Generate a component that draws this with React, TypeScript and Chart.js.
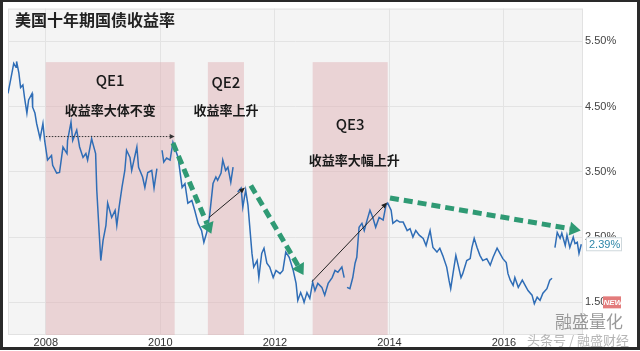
import { useEffect, useRef } from "react";
import { Chart, registerables } from "chart.js";

Chart.register(...registerables);

// ---- data ----
const years = [
  2007.34, 2007.41, 2007.44, 2007.48, 2007.49, 2007.53, 2007.56, 2007.6, 2007.63, 2007.67,
  2007.7, 2007.76, 2007.77, 2007.81, 2007.84, 2007.9, 2007.95, 2007.98, 2008.03, 2008.1,
  2008.12, 2008.19, 2008.24, 2008.3, 2008.37, 2008.38, 2008.44, 2008.47, 2008.54, 2008.59,
  2008.65, 2008.7, 2008.73, 2008.8, 2008.82, 2008.87, 2008.89, 2008.93, 2008.96, 2009.0,
  2009.05, 2009.08, 2009.15, 2009.21, 2009.24, 2009.28, 2009.33, 2009.38, 2009.41, 2009.47,
  2009.5, 2009.59, 2009.62, 2009.69, 2009.73, 2009.78, 2009.85, 2009.89, 2009.94, 2009.98,
  2010.03, 2010.06, 2010.11, 2010.17, 2010.22, 2010.31, 2010.38, 2010.43, 2010.48, 2010.55,
  2010.6, 2010.66, 2010.72, 2010.76, 2010.81, 2010.86, 2010.92, 2010.97, 2011.0, 2011.06,
  2011.09, 2011.14, 2011.18, 2011.23, 2011.27, 2011.31, 2011.35, 2011.41, 2011.44, 2011.49,
  2011.53, 2011.6, 2011.63, 2011.69, 2011.72, 2011.77, 2011.81, 2011.86, 2011.91, 2011.97,
  2012.02, 2012.09, 2012.14, 2012.19, 2012.25, 2012.32, 2012.37, 2012.4, 2012.45, 2012.49,
  2012.51, 2012.56, 2012.61, 2012.66, 2012.7, 2012.75, 2012.82, 2012.87, 2012.93, 2013.0,
  2013.05, 2013.1, 2013.17, 2013.21, 2013.235, 2013.26, 2013.31, 2013.36, 2013.4, 2013.43,
  2013.47, 2013.52, 2013.56, 2013.61, 2013.66, 2013.71, 2013.76, 2013.82, 2013.89, 2013.94,
  2013.97, 2014.03, 2014.06, 2014.13, 2014.18, 2014.24, 2014.31, 2014.36, 2014.41, 2014.46,
  2014.52, 2014.59, 2014.64, 2014.71, 2014.76, 2014.83, 2014.88, 2014.93, 2015.0, 2015.04,
  2015.07, 2015.11, 2015.16, 2015.2, 2015.25, 2015.28, 2015.35, 2015.41, 2015.44, 2015.48,
  2015.53, 2015.58, 2015.63, 2015.7, 2015.76, 2015.81, 2015.88, 2015.93, 2015.98, 2016.04,
  2016.07, 2016.11, 2016.16, 2016.19, 2016.25, 2016.32, 2016.37, 2016.42, 2016.49, 2016.53,
  2016.58, 2016.63, 2016.68, 2016.75, 2016.8, 2016.84, 2016.86, 2016.89, 2016.93, 2016.98,
  2017.01, 2017.07, 2017.1, 2017.15, 2017.21, 2017.24, 2017.28, 2017.31, 2017.35,
];

const yields: (number | null)[] = [
  4.7, 5.02, 5.16, 5.1, 5.19, 5.01, 4.79, 4.83, 4.63, 4.4,
  4.6, 4.7, 4.49, 4.4, 4.24, 4.01, 4.24, 3.98, 3.68, 3.75,
  3.6, 3.48, 3.49, 3.88, 3.78, 3.98, 4.26, 3.98, 4.14, 3.88,
  3.72, 3.78, 3.68, 4.01, 3.94, 3.78, 3.22, 2.6, 2.14, 2.45,
  2.68, 3.02, 2.8, 2.91, 2.68, 2.96, 3.26, 3.52, 3.83, 3.72,
  3.52, 3.88, 3.57, 3.42, 3.26, 3.49, 3.52, 3.25, 3.55, null,
  3.83, 3.65, 3.71, 3.68, 3.95, 3.72, 3.26, 3.32, 3.02, 3.06,
  2.91, 2.71, 2.6, 2.42, 2.57, 2.83, 3.32, 3.42, 3.37, 3.48,
  3.68, 3.52, 3.57, 3.34, 3.57, null, 3.19, 3.25, 2.96, 3.22,
  2.99, 2.25, 2.04, 2.14, 1.88, 2.25, 2.33, 2.1, 2.04, 1.88,
  1.99, 1.94, 1.99, 2.27, 2.19, 1.99, 1.79, 1.53, 1.65, 1.56,
  1.5, 1.65, 1.56, 1.81, 1.68, 1.79, 1.73, 1.61, 1.79, 1.88,
  1.99, 1.96, 2.04, 1.88, null, 1.73, 1.71, 1.88, 2.1, 2.19,
  2.65, 2.71, 2.6, 2.76, 2.91, 2.8, 2.65, 2.8, 2.76, 2.99,
  3.02, 2.91, 2.71, 2.76, 2.73, 2.73, 2.6, 2.63, 2.5, 2.6,
  2.53, 2.48, 2.37, 2.6, 2.34, 2.27, 2.33, 2.22, 2.04, 1.84,
  1.71, 1.94, 2.22, 2.07, 1.88, 1.94, 2.14, 2.17, 2.34, 2.48,
  2.34, 2.22, 2.14, 2.17, 2.07, 2.19, 2.33, 2.25, 2.17, 2.11,
  1.94, 1.84, 1.76, 1.88, 1.73, 1.84, 1.76, 1.68, 1.61, 1.48,
  1.58, 1.53, 1.64, 1.71, 1.84, 1.87, null, 2.34, 2.57, 2.48,
  2.56, 2.37, 2.53, 2.34, 2.5, 2.4, 2.42, 2.25, 2.39,
];

const xTickYears = [2008, 2010, 2012, 2014, 2016];
const yTickValues = [1.5, 2.5, 3.5, 4.5, 5.5];

const qeNames = ["QE1", "QE2", "QE3"];
const qeNotes = ["收益率大体不变", "收益率上升", "收益率大幅上升"];
const qeStarts = [2008.0, 2010.83, 2012.66];
const qeEnds = [2010.25, 2011.46, 2013.97];
const qeTopValue = 5.18;
const qeNameValues = [4.9, 4.87, 4.23];
const qeNoteValues = [4.44, 4.44, 3.68];

// arrows in data coordinates: [x1, y1, x2, y2]
const flatArrow = [2008.0, 4.04, 2010.25, 4.04];
const greenArrows = [
  [2010.22, 3.94, 2010.89, 2.55],
  [2011.58, 3.29, 2012.5, 1.92],
  [2014.01, 3.1, 2017.34, 2.6],
];
const blackArrows = [
  [2010.85, 2.8, 2011.48, 3.26],
  [2012.65, 1.82, 2013.96, 3.03],
];

const xMin = 2007.34;
const xMax = 2017.38;
const yMin = 1.0;
const yMax = 6.0;

const title = "美国十年期国债收益率";
const lastLabel = "2.39%";

function drawArrow(
  ctx: CanvasRenderingContext2D,
  x1: number, y1: number, x2: number, y2: number,
  color: string, width: number, dash: number[], headLen: number, headW: number
) {
  const ang = Math.atan2(y2 - y1, x2 - x1);
  const bx = x2 - headLen * Math.cos(ang);
  const by = y2 - headLen * Math.sin(ang);
  ctx.save();
  ctx.strokeStyle = color;
  ctx.lineWidth = width;
  ctx.lineCap = "butt";
  ctx.setLineDash(dash);
  ctx.beginPath();
  ctx.moveTo(x1, y1);
  ctx.lineTo(bx, by);
  ctx.stroke();
  ctx.setLineDash([]);
  ctx.fillStyle = color;
  ctx.beginPath();
  ctx.moveTo(x2, y2);
  ctx.lineTo(bx + (headW / 2) * Math.sin(ang), by - (headW / 2) * Math.cos(ang));
  ctx.lineTo(bx - (headW / 2) * Math.sin(ang), by + (headW / 2) * Math.cos(ang));
  ctx.closePath();
  ctx.fill();
  ctx.restore();
}

const CJK = '"Noto Sans CJK SC", "Noto Sans", sans-serif';
const LAT = '"Liberation Sans", Arial, sans-serif';

const decorPlugin = {
  id: "decor",
  beforeDraw(chart: any) {
    const { ctx, chartArea: a } = chart;
    ctx.save();
    ctx.fillStyle = "#ffffff";
    ctx.fillRect(0, 0, chart.width, chart.height);
    ctx.fillStyle = "#f4f4f4";
    ctx.fillRect(a.left, a.top, a.right - a.left, a.bottom - a.top);
    ctx.strokeStyle = "#e2e2e2";
    ctx.lineWidth = 1;
    ctx.strokeRect(a.left + 0.5, a.top + 0.5, a.right - a.left - 1, a.bottom - a.top - 1);
    ctx.restore();
  },
  beforeDatasetsDraw(chart: any) {
    const { ctx, chartArea: a, scales } = chart;
    const xs = scales.x;
    const ys = scales.y;
    ctx.save();
    ctx.fillStyle = "rgba(222, 170, 176, 0.45)";
    const top = ys.getPixelForValue(qeTopValue);
    for (let i = 0; i < qeStarts.length; i++) {
      const l = xs.getPixelForValue(qeStarts[i]);
      const r = xs.getPixelForValue(qeEnds[i]);
      ctx.fillRect(l, top, r - l, a.bottom - top);
    }
    ctx.textAlign = "center";
    ctx.textBaseline = "middle";
    ctx.fillStyle = "#1a1a1a";
    for (let i = 0; i < qeStarts.length; i++) {
      const cx = (xs.getPixelForValue(qeStarts[i]) + xs.getPixelForValue(qeEnds[i])) / 2;
      ctx.font = `500 15px ${CJK}`;
      ctx.fillText(qeNames[i], cx, ys.getPixelForValue(qeNameValues[i]));
      ctx.font = `bold 13px ${CJK}`;
      ctx.fillText(qeNotes[i], cx + (i === 2 ? 4 : 0), ys.getPixelForValue(qeNoteValues[i]));
    }
    ctx.restore();
  },
  afterDatasetsDraw(chart: any) {
    const { ctx, scales } = chart;
    const xs = scales.x;
    const ys = scales.y;
    const px = (v: number) => xs.getPixelForValue(v);
    const py = (v: number) => ys.getPixelForValue(v);
    drawArrow(ctx, px(flatArrow[0]), py(flatArrow[1]), px(flatArrow[2]), py(flatArrow[3]),
      "#333333", 1, [1.5, 1.5], 5, 5);
    for (const b of blackArrows) {
      drawArrow(ctx, px(b[0]), py(b[1]), px(b[2]), py(b[3]), "#222222", 1, [], 6, 5);
    }
    for (const g of greenArrows) {
      drawArrow(ctx, px(g[0]), py(g[1]), px(g[2]), py(g[3]), "#2f9a74", 5, [9, 5], 11, 14);
    }
  },
  afterDraw(chart: any) {
    const { ctx, chartArea: a, scales } = chart;
    const ys = scales.y;
    ctx.save();
    // title
    ctx.fillStyle = "#222222";
    ctx.font = `bold 16px ${CJK}`;
    ctx.textAlign = "left";
    ctx.textBaseline = "middle";
    ctx.fillText(title, 15, 20);

    // last value label
    const lastVal = yields[yields.length - 1] as number;
    const ly = ys.getPixelForValue(lastVal);
    ctx.fillStyle = "#ffffff";
    ctx.fillRect(a.right + 3, ly - 7, 36, 14);
    ctx.strokeStyle = "#cfd8dc";
    ctx.lineWidth = 1;
    ctx.strokeRect(a.right + 3.5, ly - 6.5, 35, 13);
    ctx.fillStyle = "#2e86a8";
    ctx.font = `11px ${LAT}`;
    ctx.fillText(lastLabel, a.right + 6, ly + 0.5);

    // NEWS badge
    const ny = ys.getPixelForValue(1.5);
    ctx.fillStyle = "#e37c7c";
    ctx.fillRect(a.right + 20, ny - 6, 18, 12);
    ctx.fillStyle = "#ffffff";
    ctx.font = `italic bold 8px ${LAT}`;
    ctx.fillText("NEWS", a.right + 20.5, ny + 0.5);

    // watermarks
    ctx.fillStyle = "rgba(120,120,120,0.75)";
    ctx.font = `17px ${CJK}`;
    ctx.fillText("融盛量化", 555, 322);
    ctx.fillStyle = "rgba(150,150,150,0.7)";
    ctx.font = `13px ${CJK}`;
    ctx.fillText("头条号 / 融盛财经", 527, 340);

    // outer frame
    ctx.strokeStyle = "#2a2a2a";
    ctx.lineWidth = 3;
    ctx.strokeRect(1.5, 0.5, chart.width - 3, chart.height - 3);
    ctx.restore();
  },
};

export default function App() {
  const ref = useRef<HTMLCanvasElement | null>(null);

  useEffect(() => {
    if (!ref.current) return;
    const points = years.map((x, i) => ({ x, y: yields[i] }));
    const chart = new Chart(ref.current, {
      type: "line",
      data: {
        datasets: [
          {
            data: points as any,
            borderColor: "#2f6db6",
            borderWidth: 1.5,
            pointRadius: 0,
            tension: 0,
            spanGaps: false,
          },
        ],
      },
      options: {
        responsive: false,
        animation: false,
        devicePixelRatio: 1,
        layout: { padding: { left: 8, top: 8, right: 0, bottom: 0 } },
        plugins: {
          legend: { display: false },
          title: { display: false },
          tooltip: { enabled: false },
        },
        scales: {
          x: {
            type: "linear",
            min: xMin,
            max: xMax,
            afterBuildTicks: (s: any) => {
              s.ticks = xTickYears.map((v) => ({ value: v }));
            },
            afterFit: (s: any) => {
              s.height = 16;
            },
            grid: { color: "#e3e3e3", drawTicks: false, lineWidth: 1 },
            border: { display: false },
            ticks: {
              padding: 1,
              color: "#333333",
              font: { size: 11, family: LAT },
              maxRotation: 0,
              callback: (v: any) => String(v),
            },
          },
          y: {
            position: "right",
            min: yMin,
            max: yMax,
            afterBuildTicks: (s: any) => {
              s.ticks = yTickValues.map((v) => ({ value: v }));
            },
            afterFit: (s: any) => {
              s.width = 57;
            },
            grid: { color: "#e3e3e3", drawTicks: false, lineWidth: 1 },
            border: { display: false },
            ticks: {
              padding: 2,
              color: "#444444",
              font: { size: 11, family: LAT },
              callback: (v: any) => Number(v).toFixed(2) + "%",
            },
          },
        },
      },
      plugins: [decorPlugin],
    });
    return () => chart.destroy();
  }, []);

  return (
    <div style={{ position: "fixed", left: 0, top: 0, width: 640, height: 351 }}>
      <canvas ref={ref} width={640} height={351} style={{ display: "block" }} />
    </div>
  );
}
